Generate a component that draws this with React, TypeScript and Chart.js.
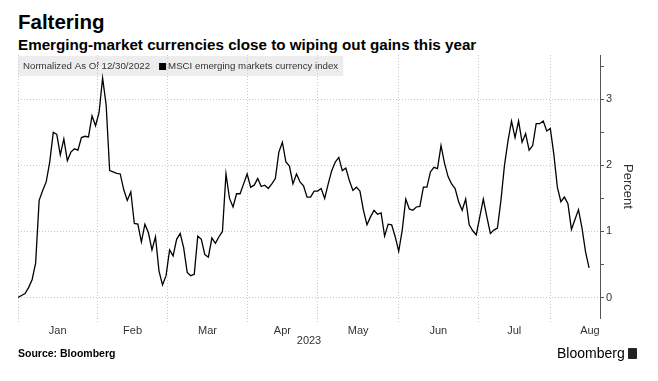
import React, { useEffect, useRef } from "react";
import { Chart, registerables } from "chart.js";

Chart.register(...registerables);

// MSCI EM currency index, % change normalized as of 12/30/2022, one value per trading day
const values: number[] = [
  0.0, 0.03, 0.06, 0.15, 0.27, 0.52, 1.47, 1.62, 1.75, 2.05,
  2.5, 2.47, 2.16, 2.4, 2.07, 2.2, 2.25, 2.23, 2.42, 2.44,
  2.43, 2.75, 2.6, 2.8, 3.32, 2.92, 1.92, 1.9, 1.88, 1.87,
  1.63, 1.47, 1.6, 1.12, 1.11, 0.84, 1.11, 0.98, 0.72, 0.92,
  0.4, 0.19, 0.33, 0.72, 0.63, 0.88, 0.97, 0.75, 0.38, 0.33,
  0.35, 0.93, 0.88, 0.65, 0.61, 0.9, 0.82, 0.92, 1.0, 1.87,
  1.5, 1.37, 1.57, 1.57, 1.72, 1.87, 1.67, 1.7, 1.8, 1.68,
  1.7, 1.65, 1.72, 1.8, 2.2, 2.35, 2.05, 1.99, 1.72, 1.87,
  1.75, 1.69, 1.52, 1.52, 1.61, 1.61, 1.65, 1.5, 1.72, 1.92,
  2.05, 2.12, 1.92, 1.96, 1.77, 1.62, 1.67, 1.61, 1.32, 1.1,
  1.22, 1.32, 1.26, 1.28, 0.93, 1.11, 1.1, 0.92, 0.7, 1.02,
  1.49, 1.34, 1.32, 1.37, 1.38, 1.67, 1.67, 1.9, 1.97, 1.95,
  2.3, 2.03, 1.83, 1.72, 1.65, 1.45, 1.32, 1.49, 1.1, 1.01,
  0.95, 1.22, 1.49, 1.22, 0.97, 1.02, 1.05, 1.47, 2.0, 2.37,
  2.67, 2.42, 2.67, 2.35, 2.48, 2.23, 2.3, 2.63, 2.63, 2.67,
  2.52, 2.56, 2.17, 1.67, 1.45, 1.52, 1.42, 1.03, 1.18, 1.33,
  1.05, 0.69, 0.45,
];

const monthLabels: string[] = ["Jan", "Feb", "Mar", "Apr", "May", "Jun", "Jul", "Aug"];
// month boundaries in trading-day index units (start of each month, plus end of Aug)
const monthBoundaries: number[] = [0, 22.5, 42.5, 65, 85, 108, 130.5, 151, 173.5];
const xMax = 165.1;
const yMin = -0.31;
const yMax = 3.67;
const yMajorTicks: number[] = [0, 1, 2, 3];
const yMinorTicks: number[] = [0.5, 1.5, 2.5, 3.5];

const titleText = "Faltering";
const subtitleText = "Emerging-market currencies close to wiping out gains this year";
const legendNote = "Normalized As Of 12/30/2022";
const seriesName = "MSCI emerging markets currency index";
const yAxisTitle = "Percent";
const xAxisTitle = "2023";
const sourceText = "Source: Bloomberg";
const brandText = "Bloomberg";

const FONT = "'Liberation Sans', Arial, sans-serif";

const monthCenters = monthLabels.map((_, i) => (monthBoundaries[i] + monthBoundaries[i + 1]) / 2);

const legendBoxPlugin = {
  id: "legendBox",
  beforeDraw(chart: any) {
    const { ctx, chartArea } = chart;
    const x0 = chartArea.left;
    const y0 = chartArea.top + 1;
    ctx.save();
    ctx.font = `9.7px ${FONT}`;
    const w1 = ctx.measureText(legendNote).width;
    const w2 = ctx.measureText(seriesName).width;
    const totalW = 5 + w1 + 9 + 7 + 2 + w2 + 5;
    ctx.fillStyle = "#ededed";
    ctx.fillRect(x0, y0, totalW, 20);
    ctx.fillStyle = "#333";
    ctx.textBaseline = "middle";
    ctx.fillText(legendNote, x0 + 5, y0 + 10.5);
    const sx = x0 + 5 + w1 + 9;
    ctx.fillStyle = "#000";
    ctx.fillRect(sx, y0 + 7, 7, 7);
    ctx.fillStyle = "#333";
    ctx.fillText(seriesName, sx + 9, y0 + 10.5);
    ctx.restore();
  },
};

export default function App() {
  const canvasRef = useRef<HTMLCanvasElement | null>(null);

  useEffect(() => {
    if (!canvasRef.current) return;
    const isBoundary = (v: number) => monthBoundaries.some((b) => Math.abs(b - v) < 1e-6);
    const chart = new Chart(canvasRef.current, {
      type: "line",
      data: {
        datasets: [
          {
            label: seriesName,
            data: values.map((v, i) => ({ x: i, y: v })),
            borderColor: "#000",
            borderWidth: 1.3,
            pointRadius: 0,
            tension: 0,
            fill: false,
          },
        ],
      },
      options: {
        responsive: false,
        animation: false,
        layout: { padding: { left: 18, top: 55, right: 0, bottom: 0 } },
        plugins: {
          legend: { display: false },
          tooltip: { enabled: false },
          title: { display: false },
        },
        scales: {
          x: {
            type: "linear",
            min: 0,
            max: xMax,
            afterBuildTicks: (scale: any) => {
              const t = [
                ...monthBoundaries.filter((b) => b <= xMax).map((v) => ({ value: v })),
                ...monthCenters.filter((c) => c <= xMax).map((v) => ({ value: v })),
              ];
              t.sort((a, b) => a.value - b.value);
              scale.ticks = t;
            },
            afterFit: (scale: any) => {
              scale.height = 63;
            },
            ticks: {
              autoSkip: false,
              maxRotation: 0,
              padding: 2,
              color: "#333",
              font: { family: FONT, size: 11 },
              callback: (v: any) => {
                const i = monthCenters.findIndex((c) => Math.abs(c - Number(v)) < 1e-6);
                return i >= 0 ? monthLabels[i] : "";
              },
            },
            grid: {
              color: (ctx: any) => (ctx.tick && isBoundary(ctx.tick.value) ? "#c8c8c8" : "rgba(0,0,0,0)"),
              tickColor: (ctx: any) => (ctx.tick && isBoundary(ctx.tick.value) ? "#c8c8c8" : "rgba(0,0,0,0)"),
              tickLength: 4,
              tickBorderDash: [1, 2],
              lineWidth: 1,
            },
            border: { display: false, dash: [1, 2] },
            title: {
              display: true,
              text: xAxisTitle,
              color: "#333",
              font: { family: FONT, size: 11 },
              padding: { top: 0, bottom: 33 },
            },
          },
          y: {
            type: "linear",
            position: "right",
            min: yMin,
            max: yMax,
            afterBuildTicks: (scale: any) => {
              scale.ticks = [...yMajorTicks, ...yMinorTicks]
                .sort((a, b) => a - b)
                .map((v) => ({ value: v }));
            },
            afterFit: (scale: any) => {
              scale.width = 58;
            },
            ticks: {
              padding: 2,
              color: "#333",
              font: { family: FONT, size: 11 },
              callback: (v: any) => (yMajorTicks.includes(Number(v)) ? String(v) : ""),
            },
            grid: {
              color: (ctx: any) =>
                ctx.tick && yMajorTicks.includes(ctx.tick.value) ? "#c8c8c8" : "rgba(0,0,0,0)",
              tickColor: "#555",
              tickLength: 4,
              lineWidth: 1,
            },
            border: { display: true, color: "#555", width: 1, dash: [1, 2] },
            title: {
              display: true,
              text: yAxisTitle,
              color: "#333",
              font: { family: FONT, size: 13 },
              padding: { top: 23, bottom: 0 },
            },
          },
        },
      },
      plugins: [legendBoxPlugin],
    } as any);
    return () => chart.destroy();
  }, []);

  return (
    <div
      style={{
        position: "absolute",
        left: 0,
        top: 0,
        width: 658,
        height: 381,
        background: "#fff",
        fontFamily: FONT,
        color: "#000",
        overflow: "hidden",
      }}
    >
      <div style={{ position: "absolute", left: 18, top: 10, fontSize: 20.5, fontWeight: 700, lineHeight: "23px" }}>
        {titleText}
      </div>
      <div style={{ position: "absolute", left: 18, top: 36, fontSize: 15.2, fontWeight: 700, lineHeight: "18px" }}>
        {subtitleText}
      </div>
      <canvas
        ref={canvasRef}
        width={658}
        height={381}
        style={{ position: "absolute", left: 0, top: 0, width: 658, height: 381 }}
      />
      <div style={{ position: "absolute", left: 18, top: 347, fontSize: 10.5, fontWeight: 700, lineHeight: "13px" }}>
        {sourceText}
      </div>
      <div
        style={{
          position: "absolute",
          left: 557,
          top: 345,
          fontSize: 14,
          lineHeight: "17px",
          display: "flex",
          alignItems: "center",
          gap: 3,
        }}
      >
        <span>{brandText}</span>
        <span
          style={{
            display: "inline-block",
            width: 9,
            height: 11,
            background: "#222",
            borderRadius: 1,
          }}
        />
      </div>
    </div>
  );
}
